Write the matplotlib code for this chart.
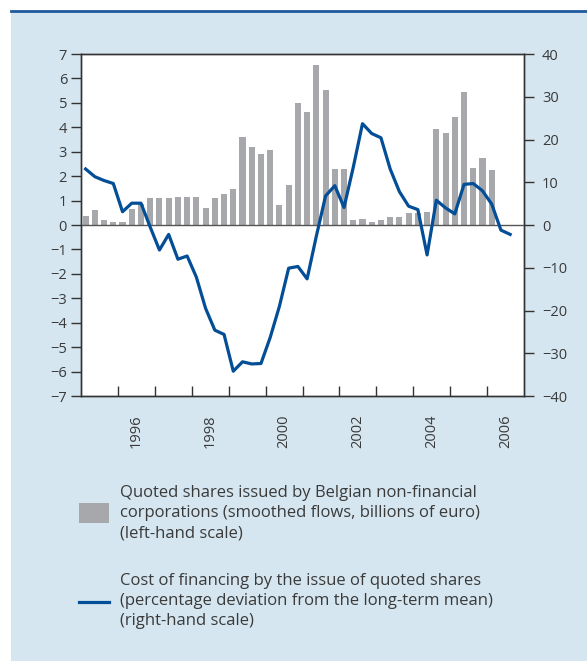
import numpy as np
import matplotlib
matplotlib.use("Agg")
import matplotlib.pyplot as plt
from matplotlib.patches import Rectangle
from matplotlib.lines import Line2D

plt.rcParams['font.family'] = ['Open Sans', 'DejaVu Sans']

# quoted shares issued (billions of euro), quarterly 1995Q1 - 2006Q1
shares = [0.37, 0.61, 0.20, 0.12, 0.12, 0.65, 0.86, 1.10, 1.10, 1.10,
          1.15, 1.15, 1.15, 0.70, 1.10, 1.27, 1.47, 3.60, 3.19, 2.90,
          3.07, 0.82, 1.64, 4.99, 4.62, 6.55, 5.53, 2.29, 2.29, 0.20,
          0.25, 0.12, 0.20, 0.33, 0.33, 0.49, 0.49, 0.53, 3.93, 3.77,
          4.42, 5.44, 2.33, 2.74, 2.25]

# cost of financing (% deviation from long-term mean), 1995Q1 - 2006Q3
cost = [13.1, 11.3, 10.4, 9.7, 3.1, 5.1, 5.1, -0.5, -5.85, -2.2,
        -8.0, -7.25, -12.2, -19.5, -24.6, -25.6, -34.2, -32.0, -32.5, -32.4,
        -26.3, -19.0, -10.1, -9.7, -12.6, -2.6, 6.8, 9.2, 4.1, 13.5,
        23.7, 21.4, 20.4, 13.1, 7.8, 4.4, 3.6, -7.0, 5.8, 4.0,
        2.6, 9.5, 9.7, 8.0, 4.9, -1.2, -2.2]

year_labels = ['1996', '1998', '2000', '2002', '2004', '2006']

bar_color = '#a7a8ab'
line_color = '#034e96'
panel_color = '#d5e6f0'
text_color = '#3a3a3a'

x_bars = 1995 + (np.arange(len(shares)) + 0.5) / 4
x_line = 1995 + (np.arange(len(cost)) + 0.5) / 4

fig = plt.figure(figsize=(5.87, 6.61), dpi=100)
fig.patch.set_facecolor('white')
# blue panel behind everything
fig.patches.append(Rectangle((11 / 587, 0), 1, 650 / 661, transform=fig.transFigure,
                             facecolor=panel_color, edgecolor='none', zorder=-5))
fig.lines.append(Line2D([11 / 587, 1], [650 / 661, 650 / 661], transform=fig.transFigure,
                        color='#1f5a9e', linewidth=2, zorder=-4))

ax = fig.add_axes([81 / 587, 265 / 661, 443 / 587, 342 / 661])
ax.set_zorder(2)
ax.set_facecolor('white')
ax.bar(x_bars, shares, width=0.165, color=bar_color, zorder=2)
ax.axhline(0, color='#555555', linewidth=1, zorder=3)
ax.set_xlim(1995, 2007)
ax.set_ylim(-7, 7)
ax.set_yticks(range(-7, 8))
ax.set_xticks(range(1996, 2007))
ax.set_xticklabels([])
ax.set_xticks([int(y) + 0.5 for y in year_labels], minor=True)
ax.set_xticklabels(year_labels, minor=True, rotation=90)
ax.tick_params(axis='x', which='major', direction='in', length=7, width=1, color='#333333')
ax.tick_params(axis='x', which='minor', length=0, pad=13, labelsize=10.5, labelcolor=text_color)
ax.tick_params(axis='y', direction='out', length=7, width=1, color='#333333',
               labelsize=10.5, labelcolor=text_color, pad=3)
for s in ax.spines.values():
    s.set_color('#333333')
    s.set_linewidth(1)

ax2 = ax.twinx()
ax2.set_zorder(3)
ax2.plot(x_line, cost, color=line_color, linewidth=2.3, zorder=4)
ax2.set_ylim(-40, 40)
ax2.set_yticks(range(-40, 41, 10))
ax2.tick_params(axis='y', direction='out', length=7, width=1, color='#333333',
                labelsize=10.5, labelcolor=text_color, pad=6)
for s in ax2.spines.values():
    s.set_color('#333333')
    s.set_linewidth(1)

# legend
fig.patches.append(Rectangle((79 / 587, (661 - 523) / 661), 30 / 587, 20 / 661,
                             transform=fig.transFigure, facecolor=bar_color, edgecolor='none'))
fig.lines.append(Line2D([79 / 587, 109 / 587], [(661 - 602) / 661] * 2, transform=fig.transFigure,
                        color=line_color, linewidth=2.3))
fig.text(120 / 587, (661 - 513) / 661,
         'Quoted shares issued by Belgian non-financial\n'
         'corporations (smoothed flows, billions of euro)\n'
         '(left-hand scale)',
         fontsize=12, color=text_color, va='center', ha='left', linespacing=1.34)
fig.text(120 / 587, (661 - 601) / 661,
         'Cost of financing by the issue of quoted shares\n'
         '(percentage deviation from the long-term mean)\n'
         '(right-hand scale)',
         fontsize=12, color=text_color, va='center', ha='left', linespacing=1.34)

fig.savefig('out.png', dpi=100)
